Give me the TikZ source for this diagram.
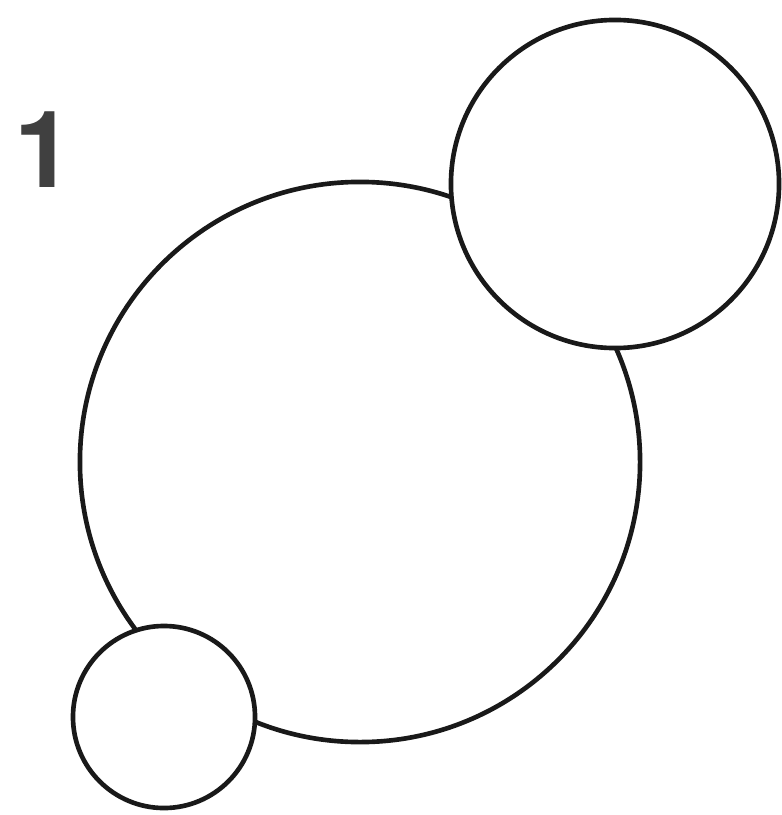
\documentclass[tikz,border=0pt]{standalone}
\usepackage{fontspec}
\newfontfamily\numfont{TeX Gyre Heros}
\begin{document}
\begin{tikzpicture}[x=0.025cm, y=-0.025cm, line width=3.3pt,
  ring/.style={circle, draw=black!90, fill=white, inner sep=0pt}]
	\useasboundingbox (0,0) rectangle (782,815);
	
	% 1. 大圆 (最底层)
	\node[ring, minimum size=14cm] (big) at (360,462) {};
	
	% 2. 两个小圆, 白色填充盖住大圆
	\node[ring, minimum size=8.2cm] (upper) at (615,184) {};
	\node[ring, minimum size=4.55cm] (lower) at (164,717) {};
	
	% 3. 编号
	\node[text=black!75, font=\fontsize{76}{76}\selectfont\numfont\bfseries] (num) at (44,150) {1};
\end{tikzpicture}
\end{document}
